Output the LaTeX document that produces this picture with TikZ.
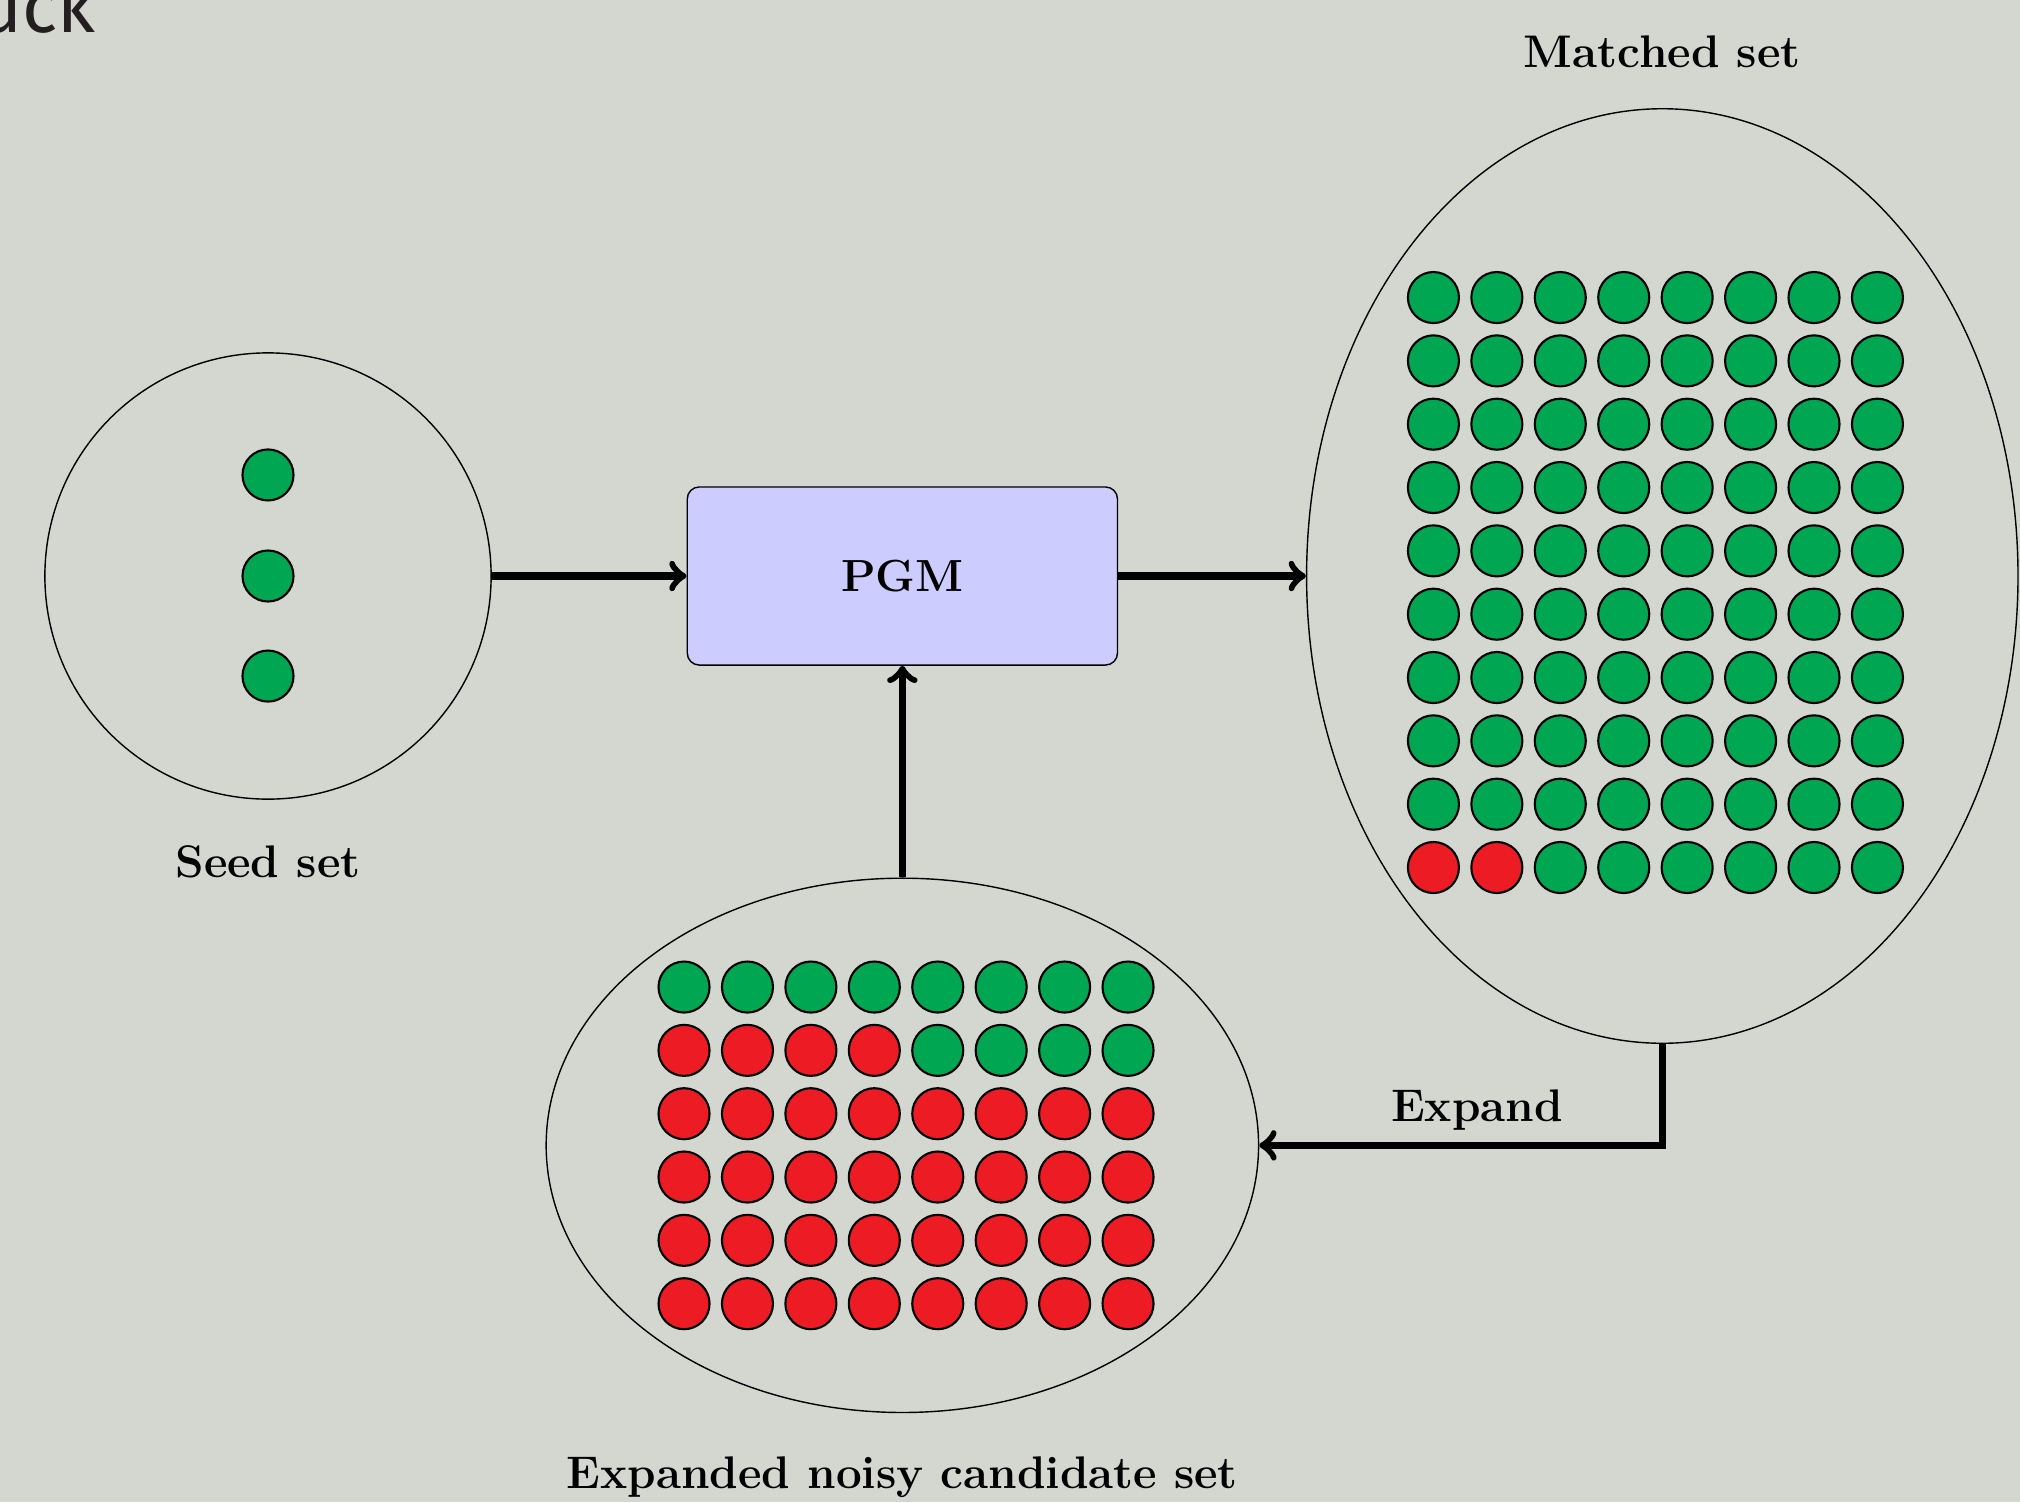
\documentclass[tikz,border=0pt]{standalone}
\usepackage{fontspec}
\newfontfamily\slidefont{Fira Sans}
\usetikzlibrary{shapes.geometric, arrows, positioning}

\definecolor{slidebg}{RGB}{212,215,207}
\definecolor{slidetext}{RGB}{35,31,32}
\definecolor{okgreen}{RGB}{0,166,81}
\definecolor{badred}{RGB}{237,28,36}

\begin{document}
\begin{tikzpicture}[
    x=0.01cm, y=-0.01cm,
    set/.style={ellipse, draw, thin, inner sep=0pt},
    block/.style={rectangle, draw, fill=blue!20, minimum width=4.3cm, minimum height=1.78cm, rounded corners=0.12cm, font=\fontsize{12.8}{15}\selectfont\bfseries},
    setname/.style={font=\fontsize{13}{15}\selectfont\bfseries},
    dot/.style={circle, draw, semithick, minimum size=0.51cm, inner sep=0pt},
    line/.style={draw, ->, line width=2pt}
]

% slide background, also fixes the page size
\useasboundingbox (0,0) rectangle (2020,1502);
\fill[slidebg] (0,0) rectangle (2020,1502);
\node [font=\slidefont\fontsize{21}{24}\selectfont, text=slidetext, anchor=base west, inner sep=0pt] (deck) at (-21,32) {uck};

\node [set, circle, minimum size=4.46cm] (seed) at (268,576) {};
\node [block, right of=seed, node distance=6.34cm] (pgm) {PGM};
\node [set, minimum width=7.11cm, minimum height=9.34cm, right of=pgm, node distance=7.595cm] (matched) {};
\node [set, minimum width=7.12cm, minimum height=5.34cm, below of=pgm, node distance=5.69cm] (cand) {};

\node [setname, below of=seed, node distance=2.86cm] (seedname) {Seed set};
\node [setname, above of=matched, node distance=5.24cm] (matchedname) {Matched set};
\node [setname, below of=cand, node distance=3.32cm] (candname) {Expanded noisy candidate set};

% seed elements
\node [dot, fill=okgreen] (s2) at (seed) {};
\node [dot, fill=okgreen, above of=s2, node distance=1.01cm] (s1) {};
\node [dot, fill=okgreen, below of=s2, node distance=1.0cm] (s3) {};

% matched elements
\foreach \r in {1,...,10}
  \foreach \c in {1,...,8} {
    \pgfmathtruncatemacro{\isbad}{(\r==10) && (\c<3)}
    \ifnum\isbad=1 \def\dotfill{badred}\else\def\dotfill{okgreen}\fi
    \node [dot, fill=\dotfill] (m-\r-\c) at ({1370+63.43*\c}, {234.2+63.33*\r}) {};
  }

% candidate elements
\foreach \r in {1,...,6}
  \foreach \c in {1,...,8} {
    \pgfmathtruncatemacro{\isbad}{(\r>2) || ((\r==2) && (\c<5))}
    \ifnum\isbad=1 \def\dotfill{badred}\else\def\dotfill{okgreen}\fi
    \node [dot, fill=\dotfill] (c-\r-\c) at ({620.6+63.43*\c}, {923.7+63.33*\r}) {};
  }

\path [line] (seed) -- (pgm);
\path [line] (pgm) -- (matched);
\path [line] (cand) -- (pgm);
\path [line] (matched) |- node [setname, above, pos=0.73] {Expand} (cand);

\end{tikzpicture}
\end{document}
